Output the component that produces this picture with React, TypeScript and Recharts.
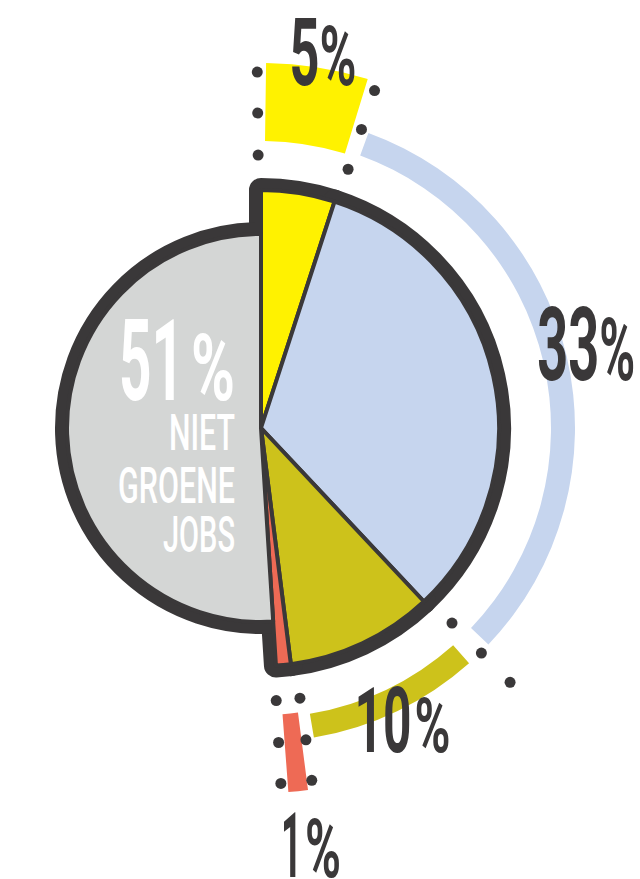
import { PieChart, Pie, Cell, Sector } from "recharts";

// shares of jobs, clockwise from 12 o'clock
const categories = ["groen geel", "groen blauw", "groen olijf", "groen rood", "niet groene jobs"];
const shares = [5, 33, 10, 1, 51];
const colors = ["#FFF200", "#C6D5EE", "#CDC21B", "#EE6A55", "#D4D6D5"];
const captionLines = ["NIET", "GROENE", "JOBS"];

const data = categories.map((name, i) => ({ name, value: shares[i] }));
const GREY = categories.indexOf("niet groene jobs");

const INK = "#3A3839";
const FONT = "Roboto, 'DejaVu Sans', sans-serif";
const CAP = 0.711; // Roboto cap height / em
const PCT_CAP = 0.6; // visual height of Roboto's % glyph / em
const CX = 261;
const CY = 428;
const GREY_R = 194;
const COLOR_R = 238;
const OUTLINE = 24;
const SEPARATOR = 4;
const BURST = [287, 365];
const BAND = [290, 314];
const DOT_RADII = [273, 315, 356];

interface LabelStyle {
  r: number;
  nudge: number;
  h: number;
  dw: number;
  ph: number;
  pw: number;
  gap: number;
}

interface RingStyle {
  kind: "burst" | "band";
  inset: [number, number];
  dots: ["start" | "end", number][];
  label: LabelStyle;
}

const ringStyles: (RingStyle | null)[] = [
  {
    kind: "burst",
    inset: [0.8, 1.0],
    dots: [["start", -0.6], ["end", 0.6]],
    label: { r: 381.6, nudge: 0.35, h: 67, dw: 30, ph: 50, pw: 37, gap: 0 },
  },
  {
    kind: "band",
    inset: [2, 3.2],
    dots: [],
    label: { r: 336, nudge: -1.9, h: 72, dw: 62, ph: 52, pw: 36, gap: 0 },
  },
  {
    kind: "band",
    inset: [1.7, 2.5],
    dots: [["start", -1.2]],
    label: { r: 324, nudge: -0.7, h: 65, dw: 57, ph: 46, pw: 36, gap: 3 },
  },
  {
    kind: "burst",
    inset: [-0.2, 0.7],
    dots: [["start", -1.0], ["end", 0.4]],
    label: { r: 419.5, nudge: -1.45, h: 65, dw: 21, ph: 49, pw: 36, gap: 3 },
  },
  null,
];

const captionStyle = [
  { w: 66, h: 35, base: 22 },
  { w: 117, h: 36, base: 75 },
  { w: 72, h: 36, base: 124 },
];

// clockwise degrees from 12 o'clock
function polar(cx: number, cy: number, r: number, deg: number) {
  const a = (deg * Math.PI) / 180;
  return { x: cx + r * Math.sin(a), y: cy - r * Math.cos(a) };
}

function PctText({ left, base, value, s, fill }: { left: number; base: number; value: number; s: Omit<LabelStyle, "r" | "nudge">; fill: string }) {
  return (
    <g>
      <text x={left} y={base} fill={fill} fontFamily={FONT} fontWeight={700} fontSize={s.h / CAP}
        textLength={s.dw} lengthAdjust="spacingAndGlyphs">
        {value}
      </text>
      <text x={left + s.dw + s.gap} y={base} fill={fill} fontFamily={FONT} fontWeight={700}
        fontSize={s.ph / PCT_CAP} textLength={s.pw} lengthAdjust="spacingAndGlyphs">
        %
      </text>
    </g>
  );
}

function GreyCaption({ cx, cy, value }: { cx: number; cy: number; value: number }) {
  const right = cx - 26;
  const s = { dw: 65, gap: 7, pw: 44, h: 80, ph: 56 };
  const left = right - (s.dw + s.gap + s.pw);
  return (
    <g>
      <PctText left={left} base={cy - 28} value={value} s={s} fill="#fff" />
      {captionLines.map((line, i) => {
        const c = captionStyle[i];
        return (
          <text key={line} x={right - c.w} y={cy + c.base} fill="#fff" fontFamily={FONT} fontWeight={500}
            fontSize={c.h / CAP} textLength={c.w} lengthAdjust="spacingAndGlyphs">
            {line}
          </text>
        );
      })}
    </g>
  );
}

function renderOverlay(props: any) {
  const { cx, cy, startAngle, endAngle, index } = props;
  if (index === GREY) return <GreyCaption cx={cx} cy={cy} value={shares[index]} />;
  const st = ringStyles[index];
  if (!st) return null;
  const t0 = 90 - startAngle;
  const t1 = 90 - endAngle;
  const [ri, ro] = st.kind === "burst" ? BURST : BAND;
  const mid = (t0 + t1) / 2 + st.label.nudge;
  const lp = polar(cx, cy, st.label.r, mid);
  const s = st.label;
  return (
    <g>
      <Sector
        cx={cx}
        cy={cy}
        innerRadius={ri}
        outerRadius={ro}
        startAngle={90 - (t0 + st.inset[0])}
        endAngle={90 - (t1 - st.inset[1])}
        fill={colors[index]}
        stroke="none"
      />
      {st.dots.map(([edge, off], k) =>
        DOT_RADII.map((r) => {
          const p = polar(cx, cy, r, (edge === "start" ? t0 : t1) + off);
          return <circle key={`${k}-${r}`} cx={p.x} cy={p.y} r={5.5} fill={INK} />;
        })
      )}
      <PctText left={lp.x - (s.dw + s.gap + s.pw) / 2} base={lp.y + s.h / 2} value={shares[index]} s={s} fill={INK} />
    </g>
  );
}

export default function App() {
  const common = {
    data,
    dataKey: "value",
    cx: CX,
    cy: CY,
    startAngle: 90,
    endAngle: -270,
    isAnimationActive: false,
    strokeLinejoin: "round" as const,
  };
  return (
    <div style={{ position: "absolute", left: 0, top: 0, width: 640, height: 879, background: "#fff" }}>
      <PieChart width={640} height={879} margin={{ top: 0, right: 0, bottom: 0, left: 0 }}>
        {/* thick dark outline: backdrop drawn under the fills */}
        <Pie {...common} outerRadius={COLOR_R}>
          {data.map((d, i) => (
            <Cell key={d.name} fill={i === GREY ? "none" : INK} stroke={i === GREY ? "none" : INK}
              strokeWidth={OUTLINE} strokeLinejoin="round" />
          ))}
        </Pie>
        <Pie {...common} outerRadius={GREY_R}>
          {data.map((d, i) => (
            <Cell key={d.name} fill={i === GREY ? INK : "none"} stroke={i === GREY ? INK : "none"}
              strokeWidth={OUTLINE} strokeLinejoin="round" />
          ))}
        </Pie>
        <Pie {...common} outerRadius={COLOR_R}>
          {data.map((d, i) => (
            <Cell key={d.name} fill={i === GREY ? "none" : colors[i]} stroke={i === GREY ? "none" : INK}
              strokeWidth={SEPARATOR} strokeLinejoin="round" />
          ))}
        </Pie>
        <Pie {...common} outerRadius={GREY_R}>
          {data.map((d, i) => (
            <Cell key={d.name} fill={i === GREY ? colors[i] : "none"} stroke={i === GREY ? INK : "none"}
              strokeWidth={SEPARATOR} strokeLinejoin="round" />
          ))}
        </Pie>
        {/* outer rings, marker dots and percentages */}
        <Pie {...common} outerRadius={COLOR_R} label={renderOverlay} labelLine={false}>
          {data.map((d) => (
            <Cell key={d.name} fill="none" stroke="none" />
          ))}
        </Pie>
      </PieChart>
    </div>
  );
}
